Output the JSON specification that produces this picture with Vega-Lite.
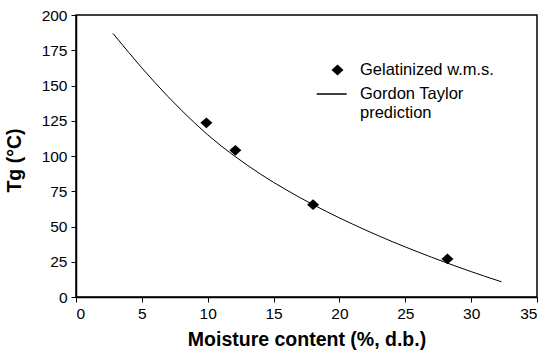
{
  "$schema": "https://vega.github.io/schema/vega-lite/v6.json",
  "width": 461,
  "height": 282,
  "autosize": "none",
  "padding": {"left": 76, "top": 15, "right": 10, "bottom": 57},
  "background": "white",
  "config": {
    "font": "Liberation Sans",
    "view": {"stroke": "black", "strokeWidth": 1.5},
    "axis": {
      "grid": false,
      "domainColor": "black",
      "domainWidth": 1.5,
      "tickColor": "black",
      "tickWidth": 1,
      "tickSize": 5,
      "labelColor": "black",
      "labelFontSize": 15.5,
      "labelFont": "Liberation Sans",
      "labelOverlap": false,
      "titleColor": "black",
      "titleFont": "Liberation Sans",
      "titleFontWeight": "bold",
      "titleFontSize": 19.5
    }
  },
  "datasets": {
    "curve": [
      {"moisture": 2.8, "tg": 187},
      {"moisture": 4, "tg": 173.5},
      {"moisture": 5, "tg": 162.5},
      {"moisture": 6, "tg": 152},
      {"moisture": 7, "tg": 142},
      {"moisture": 8, "tg": 132.5},
      {"moisture": 9, "tg": 123.5},
      {"moisture": 10, "tg": 115},
      {"moisture": 11, "tg": 107.3},
      {"moisture": 12, "tg": 100.2},
      {"moisture": 13, "tg": 93.5},
      {"moisture": 14, "tg": 87.2},
      {"moisture": 15, "tg": 81.3},
      {"moisture": 16, "tg": 75.8},
      {"moisture": 17, "tg": 70.5},
      {"moisture": 18, "tg": 65.5},
      {"moisture": 19, "tg": 60.7},
      {"moisture": 20, "tg": 56.1},
      {"moisture": 21, "tg": 51.7},
      {"moisture": 22, "tg": 47.4},
      {"moisture": 23, "tg": 43.3},
      {"moisture": 24, "tg": 39.3},
      {"moisture": 25, "tg": 35.5},
      {"moisture": 26, "tg": 31.8},
      {"moisture": 27, "tg": 28.2},
      {"moisture": 28, "tg": 24.7},
      {"moisture": 29, "tg": 21.3},
      {"moisture": 30, "tg": 18.0},
      {"moisture": 31, "tg": 14.8},
      {"moisture": 32.3, "tg": 10.8}
    ],
    "measured": [
      {"moisture": 9.9, "tg": 123.5, "series": "Gelatinized w.m.s."},
      {"moisture": 12.1, "tg": 104, "series": "Gelatinized w.m.s."},
      {"moisture": 18.0, "tg": 65.5, "series": "Gelatinized w.m.s."},
      {"moisture": 28.2, "tg": 27, "series": "Gelatinized w.m.s."}
    ]
  },
  "encoding": {
    "x": {
      "field": "moisture",
      "type": "quantitative",
      "scale": {"domain": [0, 35], "nice": false},
      "axis": {"values": [0, 5, 10, 15, 20, 25, 30, 35], "title": "Moisture content (%, d.b.)", "labelPadding": 4, "titlePadding": 9}
    },
    "y": {
      "field": "tg",
      "type": "quantitative",
      "scale": {"domain": [0, 200], "nice": false},
      "axis": {"values": [0, 25, 50, 75, 100, 125, 150, 175, 200], "title": "Tg (°C)", "labelPadding": 4, "titlePadding": 17, "titleY": 145}
    }
  },
  "layer": [
    {
      "data": {"name": "curve"},
      "mark": {"type": "line", "color": "black", "strokeWidth": 1}
    },
    {
      "data": {"name": "measured"},
      "mark": {"type": "point", "filled": true, "color": "black", "opacity": 1, "size": 400},
      "encoding": {
        "shape": {
          "field": "series",
          "type": "nominal",
          "scale": {
            "domain": ["Gelatinized w.m.s.", "Gordon Taylor prediction"],
            "range": ["M0,-0.54L0.6,0L0,0.54L-0.6,0Z", "M-2.08,-0.075L0.92,-0.075L0.92,0.075L-2.08,0.075Z"]
          },
          "legend": {
            "title": null,
            "orient": "none",
            "legendX": 251.5,
            "legendY": 45,
            "padding": 0,
            "symbolSize": 400,
            "symbolFillColor": "black",
            "symbolStrokeWidth": 0,
            "labelFontSize": 16.5,
            "labelFont": "Liberation Sans",
            "labelColor": "black",
            "labelOffset": 12.5,
            "labelBaseline": "middle",
            "labelLimit": 300,
            "rowPadding": 5,
            "labelExpr": "datum.label == 'Gordon Taylor prediction' ? ['Gordon Taylor', 'prediction'] : datum.label",
            "encode": {
              "symbols": {"update": {"fill": {"value": "black"}, "opacity": {"value": 1}, "fillOpacity": {"value": 1}}},
              "labels": {"update": {"lineHeight": {"value": 18.5}}}
            }
          }
        }
      }
    }
  ]
}
